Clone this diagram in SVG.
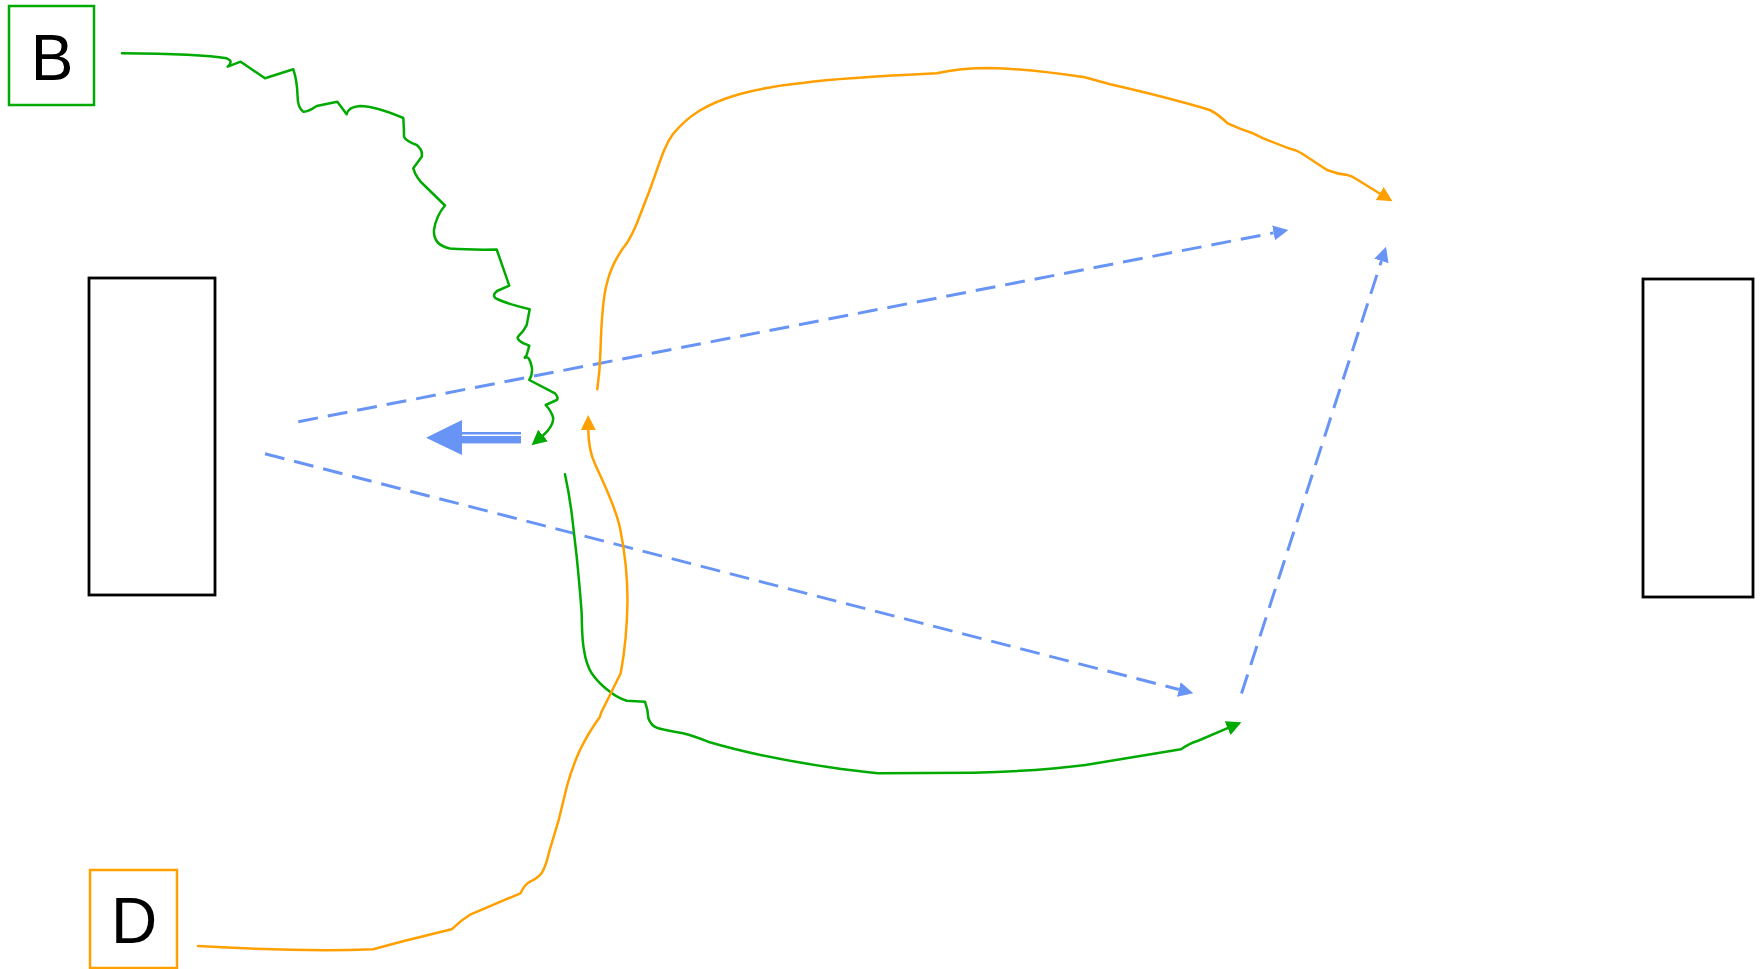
<svg xmlns="http://www.w3.org/2000/svg" width="1761" height="969" viewBox="0 0 1761 969">
<style>
.blk{fill:#fff;stroke:#000;stroke-width:2.8}
.lbl{font-family:"Liberation Sans",Arial,sans-serif;font-size:64px;fill:#000;text-anchor:middle}
.g{fill:none;stroke:#00AA00;stroke-width:2.5;stroke-linejoin:round;stroke-linecap:round}
.o{fill:none;stroke:#FFA000;stroke-width:2.5;stroke-linejoin:round;stroke-linecap:round}
.b{fill:none;stroke:#6894F5;stroke-width:3;stroke-dasharray:20 10}
</style>
<defs>
<marker id="mg" markerUnits="userSpaceOnUse" markerWidth="16" markerHeight="18" viewBox="0 -9 16 18" refX="0" refY="0" orient="auto"><path d="M0,-7.5 L15,0 L0,7.5 z" fill="#00AA00"/></marker>
<marker id="mo" markerUnits="userSpaceOnUse" markerWidth="16" markerHeight="18" viewBox="0 -9 16 18" refX="0" refY="0" orient="auto"><path d="M0,-7.5 L15,0 L0,7.5 z" fill="#FFA000"/></marker>
<marker id="mb" markerUnits="userSpaceOnUse" markerWidth="16" markerHeight="18" viewBox="0 -9 16 18" refX="0" refY="0" orient="auto"><path d="M0,-7.5 L15,0 L0,7.5 z" fill="#6894F5"/></marker>
</defs>
<rect width="1761" height="969" fill="#fff"/>
<g id="node-left"><rect class="blk" x="89" y="278" width="126" height="317"/></g>
<g id="node-right"><rect class="blk" x="1643" y="279" width="110" height="318"/></g>
<g id="node-B"><rect x="9" y="6" width="85" height="99" fill="#fff" stroke="#00AA00" stroke-width="2.5"/><text class="lbl" x="52" y="80">B</text></g>
<g id="node-D"><rect x="90" y="870" width="87" height="98" fill="#fff" stroke="#FFA000" stroke-width="2.5"/><text class="lbl" x="134" y="943">D</text></g>
<g id="connectors">
<path class="b" d="M298.3 421.7 L1273.6 232.9" marker-end="url(#mb)"/>
<path class="b" d="M265 453.7 L1178.8 689.5" marker-end="url(#mb)"/>
<path class="b" d="M1241.5 693.5 L1381.4 261" marker-end="url(#mb)"/>
<path class="g" d="M122 53.3 Q200 54 226.7 58.3 Q234 61 227.7 66.7 L240.7 61.7 L265 78.3 L293.3 69.3 Q297 80 297.5 95 Q297.5 108 303.3 111.7 Q308 112 316.7 106 L337.3 101.7 L346.7 114.3 Q348 107 360 106 Q375 106 403.3 118 Q404 128 404 136.7 Q406 141 416.7 145 Q423 150 421.7 156.7 L413.3 168.3 Q416 178 425 186 L445 205.5 Q436 216 434 230 Q433 245 450 248.5 Q470 250 496.7 249.5 L509.3 285.7 L497 291 Q491 296 497 299 Q508 304 529.7 309.3 L526.7 325 Q524 331 518 336.7 Q516 341 529.3 345.7 L526.7 355 Q524 358 525 357.7 Q529 355 531.7 366.7 Q533 374 529.3 380 L555 393.3 Q559 398 556.7 400 L545.7 405 Q552 412 553.3 418.3 Q553 427 543 435.5" marker-end="url(#mg)"/>
<path class="g" d="M565 474.3 Q569 493 571.7 513.3 L576.7 556.7 Q580 590 581.7 613.3 Q582 640 584 650 Q586 664 591.7 673.3 Q599 684 610 691.7 Q618 698 626.7 700.7 L645 701.7 Q648 710 648.3 718 Q651 726 658.3 728.3 Q668 731 683 733.3 Q694 736 708 741.7 Q760 757 828 767 Q855 771 878 773.3 L973.4 772.7 Q1040 771 1085.5 765 L1181 749.3 Q1190 743 1197.5 741 L1227.6 728.2" marker-end="url(#mg)"/>
<path class="o" d="M198 946 Q300 952 373 949.3 L404 941 L451.6 929.3 Q460 921 470.7 914.3 L520.5 893.3 Q525 884 530 881.7 Q538 878 541.5 873.3 Q546 866 549.2 851.7 L558.7 820 L567 786 Q572 768 579 752 Q588 733 600 716.7 L601 713 L620.7 673.3 Q627 640 627.5 600 Q627.5 565 620 528 C615 505 603 482 595 464 Q588.5 450 588.3 430" marker-end="url(#mo)"/>
<path class="o" d="M597.3 389.3 Q600 370 600.5 350 Q602 300 607 283 Q612 262 626.7 243.3 Q632 235 637 223 L651 186.7 C660 162 664 146 673 134 C688 116 705 104 740 94 Q770 86 804 82.7 Q840 78 936.7 73.3 Q960 68 990 68 Q1030 69 1084.7 77.3 L1110.2 84.3 Q1170 98 1209.7 110 Q1218 114 1227.6 123.3 Q1240 129 1253 133.3 L1263.3 138.3 Q1280 145 1288.8 148.3 Q1296 150 1301.5 153.3 L1327 170 Q1337 174 1347.4 175 Q1352 176 1355 178.3 L1379.7 193.5" marker-end="url(#mo)"/>
<g id="thick-arrow">
<polygon points="426,437.7 462,420 462,455" fill="#6894F5"/>
<rect x="461" y="432" width="60" height="11.4" fill="#6894F5"/>
<line x1="462" y1="435.2" x2="521" y2="435.2" stroke="#fff" stroke-width="1.5"/>
</g>
</g>
</svg>
